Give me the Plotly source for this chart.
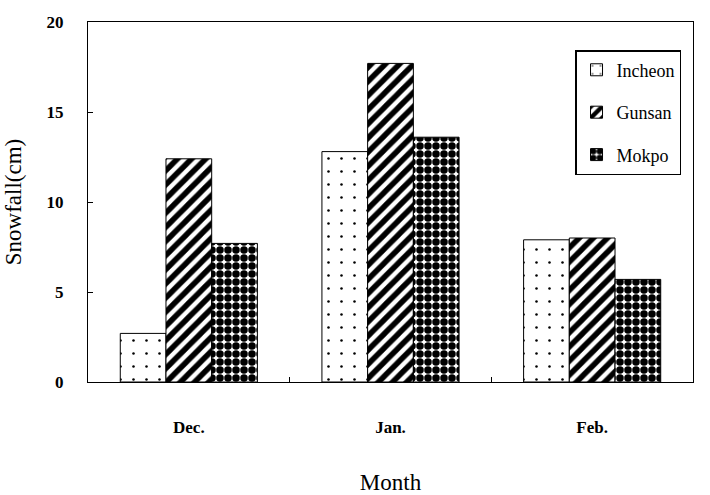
import plotly.graph_objects as go

months = ["Dec.", "Jan.", "Feb."]
incheon = [2.7, 12.8, 7.9]
gunsan = [12.4, 17.7, 8.0]
mokpo = [7.7, 13.6, 5.7]
y_ticks = [0, 5, 10, 15, 20]

serif = "Times New Roman, Liberation Serif, serif"

fig = go.Figure()
fig.add_trace(go.Bar(
    x=months, y=incheon, name="Incheon", legendgroup="a",
    marker=dict(color="white", line=dict(color="black", width=1),
                pattern=dict(shape=".", fgcolor="black", bgcolor="white", fgopacity=1,
                             size=13, solidity=0.03)),
))
fig.add_trace(go.Bar(
    x=months, y=gunsan, name="Gunsan", legendgroup="b",
    marker=dict(color="white", line=dict(color="black", width=1),
                pattern=dict(shape="/", fgcolor="black", bgcolor="white", fgopacity=1,
                             size=10, solidity=0.55)),
))
fig.add_trace(go.Bar(
    x=months, y=mokpo, name="Mokpo", legendgroup="c",
    marker=dict(color="white", line=dict(color="black", width=1),
                pattern=dict(shape=".", fgcolor="black", bgcolor="white", fgopacity=1,
                             size=8, solidity=0.7)),
))

fig.update_layout(
    width=710, height=495,
    margin=dict(l=88, r=17, t=22, b=113),
    paper_bgcolor="white", plot_bgcolor="white",
    barmode="group", bargap=0.32, bargroupgap=0,
    font=dict(family=serif, color="black"),
    legend=dict(
        x=0.805, y=0.922, xanchor="left", yanchor="top",
        bordercolor="black", borderwidth=1.5, bgcolor="white",
        font=dict(family=serif, size=18), tracegroupgap=16,
        itemwidth=30,
    ),
    xaxis=dict(
        showline=True, linecolor="black", linewidth=1, mirror=True,
        ticks="inside", tickson="boundaries", ticklen=5, tickcolor="black",
        tickfont=dict(family=serif, size=17, weight="bold"),
        ticklabelstandoff=30, automargin=False,
        title=dict(text="Month", font=dict(family=serif, size=23), standoff=38),
    ),
    yaxis=dict(
        range=[0, 20], tickvals=y_ticks, automargin=False,
        showline=True, linecolor="black", linewidth=1, mirror=True,
        ticks="inside", ticklen=5, tickcolor="black", showgrid=False, zeroline=False,
        tickfont=dict(family=serif, size=17, weight="bold"),
        ticklabelstandoff=20,
        title=dict(text="Snowfall(cm)", font=dict(family=serif, size=23), standoff=18),
    ),
)

fig.write_html("out.html")
